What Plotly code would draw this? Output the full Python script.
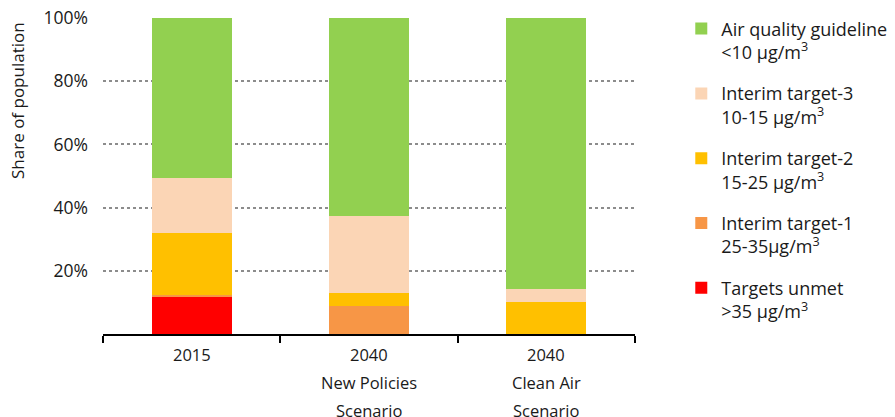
import plotly.graph_objects as go

categories = ["2015", "2040 New Policies Scenario", "2040 Clean Air Scenario"]
category_lines = [["2015"], ["2040", "New Policies", "Scenario"], ["2040", "Clean Air", "Scenario"]]

series_names = [
    "Targets unmet<br>>35 µg/m<sup>3</sup>",
    "Interim target-1<br>25-35µg/m<sup>3</sup>",
    "Interim target-2<br>15-25 µg/m<sup>3</sup>",
    "Interim target-3<br>10-15 µg/m<sup>3</sup>",
    "Air quality guideline<br><10 µg/m<sup>3</sup>",
]
unmet = [12.0, 0.0, 0.0]
target1 = [0.5, 9.0, 0.0]
target2 = [19.5, 4.0, 10.0]
target3 = [17.5, 24.5, 4.2]
guideline = [50.5, 62.5, 85.8]
series_values = [unmet, target1, target2, target3, guideline]
colors = ["#FF0000", "#F79646", "#FFC000", "#FBD5B5", "#92D050"]

y_ticks = [20, 40, 60, 80, 100]
y_tick_labels = ["20%", "40%", "60%", "80%", "100%"]

FONT = "'Open Sans', sans-serif"
TXT = "#1a1a1a"

fig = go.Figure()
n = len(series_names)
for i, (name, vals, col) in enumerate(zip(series_names, series_values, colors)):
    fig.add_trace(go.Bar(
        x=categories, y=vals, name=name, marker=dict(color=col, line=dict(width=0)),
        legendgroup=f"g{i}", legendrank=n - i,
    ))

annotations = []
for ci, lines in enumerate(category_lines):
    for j, ln in enumerate(lines):
        annotations.append(dict(
            x=ci, xref="x", y=-0.022 - j * 0.088, yref="paper", yanchor="top",
            text=ln, showarrow=False, font=dict(size=16.5, color=TXT, family=FONT),
        ))
annotations.append(dict(
    x=-0.162, xref="paper", y=0.74, yref="paper", xanchor="center", yanchor="middle",
    text="Share of population", textangle=-90, showarrow=False,
    font=dict(size=17, color=TXT, family=FONT),
))

fig.update_layout(
    width=895, height=417,
    margin=dict(l=103, r=260, t=18, b=83, autoexpand=False),
    paper_bgcolor="white", plot_bgcolor="white",
    barmode="stack", bargap=0.55,
    font=dict(family=FONT, size=16, color=TXT),
    showlegend=True,
    legend=dict(
        x=1.087, y=1.024, xanchor="left", yanchor="top",
        traceorder="grouped", tracegroupgap=15,
        font=dict(size=18, family=FONT, color=TXT),
        itemwidth=30, valign="top", maxheight=400,
    ),
    annotations=annotations,
)
fig.update_xaxes(
    type="category", range=[-0.5, len(categories) - 0.5], showticklabels=False,
    showline=True, linecolor="black", linewidth=1.5,
    ticks="outside", tickson="boundaries", ticklen=7, tickcolor="black", tickwidth=1.5,
    showgrid=False,
)
fig.update_yaxes(
    range=[0, 100], tickvals=y_ticks, ticktext=y_tick_labels, showline=False,
    showgrid=True, gridcolor="#8c8c8c", griddash="dot", gridwidth=1.5,
    zeroline=False, ticks="", ticklabelstandoff=14,
    tickfont=dict(size=17.5, family=FONT, color=TXT),
)

fig.write_html("out.html", config={"displayModeBar": False},
               post_script="document.body.style.margin='0';")
